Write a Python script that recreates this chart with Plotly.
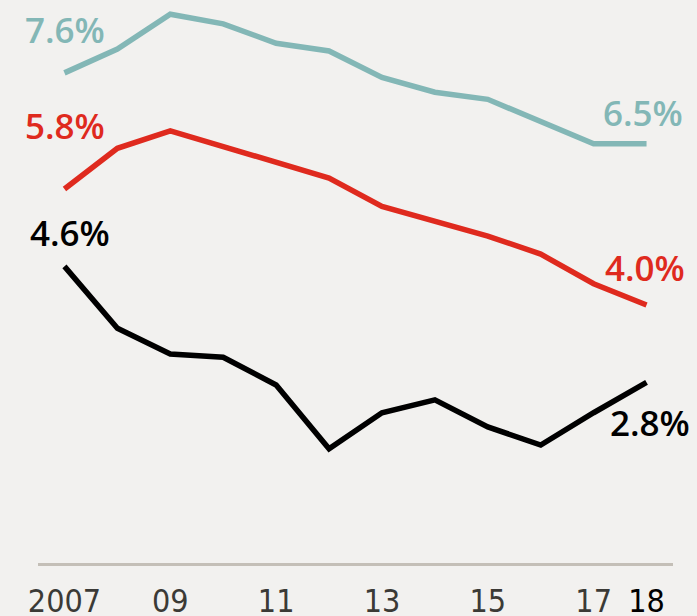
import plotly.graph_objects as go

years = list(range(2007, 2019))
teal_vals = [7.6, 7.97, 8.51, 8.36, 8.06, 7.94, 7.53, 7.30, 7.19, 6.85, 6.5, 6.5]
red_vals = [5.8, 6.43, 6.70, 6.45, 6.22, 5.97, 5.53, 5.30, 5.07, 4.79, 4.33, 4.0]
black_vals = [4.6, 3.64, 3.24, 3.19, 2.76, 1.77, 2.33, 2.53, 2.11, 1.83, 2.33, 2.8]

tick_vals = [2007, 2009, 2011, 2013, 2015, 2017, 2018]
tick_text = ["2007", "09", "11", "13", "15", "17", "<span style='color:#000000'>18</span>"]

TEAL = "#83b7b6"
RED = "#df2a1e"
BLACK = "#000000"
BG = "#f2f1ef"

series = [
    (teal_vals, TEAL),
    (red_vals, RED),
    (black_vals, BLACK),
]

fig = go.Figure()
for vals, col in series:
    fig.add_trace(go.Scatter(x=years, y=vals, mode="lines",
                             line=dict(color=col, width=5.5),
                             hoverinfo="skip", showlegend=False))

label_font = dict(family="Open Sans, DejaVu Sans", size=35, weight=600)
# (value series, index, colour, xshift, yshift)
labels = [
    (teal_vals, 0, TEAL, 1, 43),
    (red_vals, 0, RED, 1, 63),
    (black_vals, 0, BLACK, 6, 34),
    (teal_vals, -1, TEAL, -4, 31),
    (red_vals, -1, RED, -2, 38),
    (black_vals, -1, BLACK, 3, -40),
]
for vals, i, col, xs, ys in labels:
    fig.add_annotation(x=years[i], y=vals[i], text=f"{vals[i]:.1f}%",
                       showarrow=False, xanchor="center", yanchor="middle",
                       xshift=xs, yshift=ys,
                       font=dict(color=col, **label_font))

fig.update_layout(
    width=697, height=616,
    margin=dict(l=38, r=24, t=0, b=53),
    paper_bgcolor=BG, plot_bgcolor=BG,
    xaxis=dict(range=[2006.5, 2018.5], tickmode="array", tickvals=tick_vals,
               ticktext=tick_text, showgrid=False, zeroline=False,
               showline=True, linecolor="#c4bfb7", linewidth=2.5,
               automargin=False,
               ticks="outside", ticklen=8, tickcolor="rgba(0,0,0,0)",
               tickfont=dict(family="DejaVu Sans Condensed, Liberation Sans Narrow", size=32, color="#3b3a36")),
    yaxis=dict(range=[0, 8.73], visible=False, showgrid=False, zeroline=False,
               automargin=False),
)

fig.write_html("out.html", config={"displayModeBar": False},
               post_script="document.body.style.margin='0';document.body.style.overflow='hidden';document.body.style.background='%s';" % BG)
